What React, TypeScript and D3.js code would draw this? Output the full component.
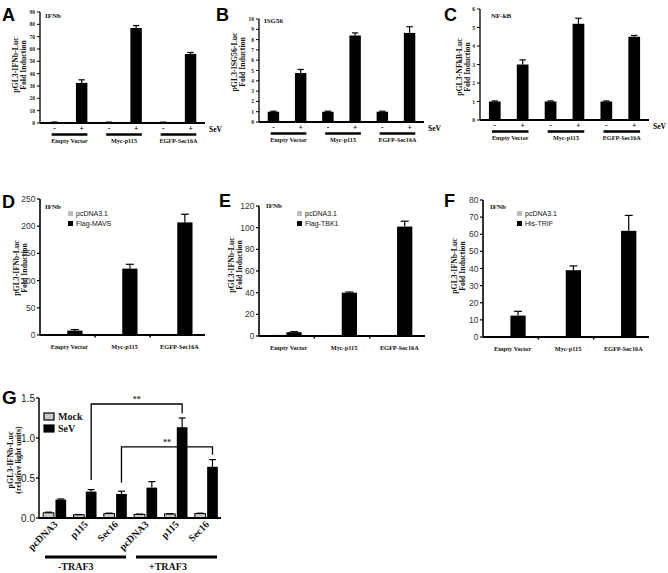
import React from "react";
import * as d3 from "d3";

// ---------- DATA ----------
const sevGroups = ["Empty Vector", "Myc-p115", "EGFP-Sec16A"];
const sevSigns = ["-", "+"];
const panelAValues = [0.6, 32.5, 0.5, 77, 0.5, 56];
const panelAErrors = [0.2, 2.5, 0.2, 2, 0.2, 1.2];
const panelBValues = [1, 4.75, 1, 8.4, 1, 8.65];
const panelBErrors = [0.05, 0.35, 0.05, 0.25, 0.05, 0.6];
const panelCValues = [1, 3.0, 1, 5.2, 1, 4.5];
const panelCErrors = [0.03, 0.25, 0.03, 0.3, 0.03, 0.07];

const vectorGroups = ["Empty Vector", "Myc-p115", "EGFP-Sec16A"];
const panelDSeries = ["pcDNA3.1", "Flag-MAVS"];
const panelDControl = [0.8, 0.8, 0.8];
const panelDTreated = [8, 122, 207];
const panelDErrors = [2, 8, 15];
const panelESeries = ["pcDNA3.1", "Flag-TBK1"];
const panelEControl = [1.2, 1, 1];
const panelETreated = [3.5, 40, 101];
const panelEErrors = [0.5, 0.6, 5];
const panelFSeries = ["pcDNA3.1", "His-TRIF"];
const panelFControl = [0.3, 0.3, 0.3];
const panelFTreated = [12.5, 39, 62];
const panelFErrors = [2.5, 2.5, 9];

const gCategories = ["pcDNA3", "p115", "Sec16", "pcDNA3", "p115", "Sec16"];
const gTrafGroups = ["-TRAF3", "+TRAF3"];
const gSeries = ["Mock", "SeV"];
const gMock = [0.065, 0.04, 0.055, 0.045, 0.05, 0.055];
const gMockErr = [0.008, 0.004, 0.006, 0.004, 0.004, 0.005];
const gSev = [0.23, 0.33, 0.3, 0.38, 1.135, 0.64];
const gSevErr = [0.008, 0.025, 0.035, 0.075, 0.115, 0.09];
const gYTicks = [0, 0.5, 1.0, 1.5];
// significance brackets: [from index, to index, top, left foot, right foot]
const gBrackets = [
  [1, 4, 1.425, 0.475, 1.31],
  [2, 5, 0.89, 0.44, 0.79],
];

// ---------- STYLE ----------
const SERIF = "'Liberation Serif', 'Times New Roman', serif";
const SANS = "'Liberation Sans', Arial, sans-serif";
const GRAY = "#bdbdbd";

function PanelLetter({ x, y, text, size = 18 }: any) {
  return (
    <text x={x} y={y} fontFamily={SANS} fontWeight="bold" fontSize={size} fill="#000">
      {text}
    </text>
  );
}

function YLabel({ x1, x2, cy, l1, l2, size = 7.8 }: any) {
  return (
    <g fontFamily={SERIF} fontWeight="bold" fontSize={size} textAnchor="middle" fill="#111">
      <text transform={`translate(${x1},${cy}) rotate(-90)`}>{l1}</text>
      <text transform={`translate(${x2},${cy}) rotate(-90)`}>{l2}</text>
    </g>
  );
}

function ErrBar({ cx, yv, ye, cap = 7 }: any) {
  return (
    <g stroke="#000" strokeWidth={1.2}>
      <line x1={cx} x2={cx} y1={yv} y2={ye} />
      <line x1={cx - cap / 2} x2={cx + cap / 2} y1={ye} y2={ye} />
    </g>
  );
}

function SevPanel({ cfg, values, errors }: any) {
  const cats = d3.range(values.length).map(String);
  const x = d3.scaleBand().domain(cats).range([cfg.x0, cfg.x1]).paddingInner(0.58).paddingOuter(0.32);
  const y = d3.scaleLinear().domain([0, cfg.max]).range([cfg.y0, cfg.y1]);
  const ticks = d3.range(0, cfg.max + 1e-6, cfg.step);
  const bw = x.bandwidth();
  return (
    <g>
      <PanelLetter x={cfg.lx} y={cfg.ly} text={cfg.letter} />
      <YLabel x1={cfg.yl1} x2={cfg.yl2} cy={cfg.ylc} l1={cfg.ylabel} l2="Fold Induction" />
      <text x={cfg.tx} y={cfg.ty} fontFamily={SERIF} fontWeight="bold" fontSize={7} fill="#111">
        {cfg.title}
      </text>
      {/* y axis */}
      <line x1={cfg.x0} x2={cfg.x0} y1={y(0)} y2={y(cfg.max)} stroke="#000" strokeWidth={1.3} />
      {ticks.map((t: number) => (
        <g key={t}>
          <line x1={cfg.x0 - 3} x2={cfg.x0} y1={y(t)} y2={y(t)} stroke="#000" strokeWidth={1} />
          <text x={cfg.x0 - 5} y={y(t) + 2} textAnchor="end" fontFamily={SERIF} fontWeight="bold" fontSize={5.5} fill="#222">
            {t}
          </text>
        </g>
      ))}
      {/* bars */}
      {values.map((v: number, i: number) => (
        <rect key={i} x={x(String(i))} y={y(v)} width={bw} height={y(0) - y(v)} fill="#000" />
      ))}
      {values.map((v: number, i: number) => (
        <ErrBar key={"e" + i} cx={(x(String(i)) as number) + bw / 2} yv={y(v)} ye={y(v + errors[i])} cap={bw * 0.55} />
      ))}
      {/* x axis */}
      <line x1={cfg.x0} x2={cfg.x1} y1={y(0)} y2={y(0)} stroke="#000" strokeWidth={2} />
      {values.map((v: number, i: number) => (
        <text key={"s" + i} x={(x(String(i)) as number) + bw / 2} y={y(0) + 8} textAnchor="middle" fontFamily={SERIF} fontWeight="bold" fontSize={7.5}>
          {sevSigns[i % 2]}
        </text>
      ))}
      <text x={cfg.x1 + 4} y={y(0) + 9} fontFamily={SERIF} fontWeight="bold" fontSize={7.5}>
        SeV
      </text>
      {sevGroups.map((g, gi) => {
        const xa = (x(String(gi * 2)) as number) + 3;
        const xb = (x(String(gi * 2 + 1)) as number) + bw;
        return (
          <g key={g}>
            <line x1={xa} x2={xb} y1={y(0) + 11.5} y2={y(0) + 11.5} stroke="#000" strokeWidth={2.5} />
            <text x={(xa + xb) / 2} y={y(0) + 20} textAnchor="middle" fontFamily={SERIF} fontWeight="bold" fontSize={6.2} fill="#111">
              {g}
            </text>
          </g>
        );
      })}
    </g>
  );
}

function VecPanel({ cfg, control, treated, errors, series }: any) {
  const x = d3.scaleBand().domain(vectorGroups).range([cfg.x0, cfg.x1]).padding(0);
  const inner = d3.scaleBand().domain(series).range([-15.5, 15]).padding(0);
  const y = d3.scaleLinear().domain([0, cfg.max]).range([cfg.y0, cfg.y1]);
  const ticks = d3.range(0, cfg.max + 1e-6, cfg.step);
  const bw = inner.bandwidth();
  const center = (g: string) => (x(g) as number) + x.bandwidth() / 2;
  return (
    <g>
      <PanelLetter x={cfg.lx} y={cfg.ly} text={cfg.letter} />
      <YLabel x1={cfg.yl1} x2={cfg.yl2} cy={cfg.ylc} l1="pGL3-IFNb-Luc" l2="Fold Induction" />
      <text x={cfg.tx} y={cfg.ty} fontFamily={SERIF} fontWeight="bold" fontSize={7} fill="#111">
        IFNb
      </text>
      {/* legend */}
      {series.map((s: string, i: number) => (
        <g key={s}>
          <rect x={cfg.legx} y={cfg.legy + i * 10} width={5} height={5} fill={i === 0 ? GRAY : "#000"} />
          <text x={cfg.legx + 8} y={cfg.legy + i * 10 + 5} fontFamily={SANS} fontSize={7} fill="#111">
            {s}
          </text>
        </g>
      ))}
      {/* y axis */}
      <line x1={cfg.x0} x2={cfg.x0} y1={y(0)} y2={y(cfg.max)} stroke="#000" strokeWidth={1.6} />
      {ticks.map((t: number) => (
        <g key={t}>
          <line x1={cfg.x0 - 3} x2={cfg.x0} y1={y(t)} y2={y(t)} stroke="#000" strokeWidth={1.2} />
          <text x={cfg.x0 - 4.5} y={y(t) + 3} textAnchor="end" fontFamily={SANS} fontSize={8.5} fill="#333">
            {t}
          </text>
        </g>
      ))}
      {vectorGroups.map((g, gi) => {
        const c = center(g);
        const vals = [control[gi], treated[gi]];
        return (
          <g key={g}>
            {vals.map((v, si) => (
              <rect key={si} x={c + (inner(series[si]) as number)} y={y(v)} width={bw} height={y(0) - y(v)} fill={si === 0 ? GRAY : "#000"} />
            ))}
            <ErrBar cx={c + (inner(series[1]) as number) + bw / 2} yv={y(treated[gi])} ye={y(treated[gi] + errors[gi])} cap={8} />
            <text x={c + 2} y={y(0) + 14} textAnchor="middle" fontFamily={SERIF} fontWeight="bold" fontSize={6.3} fill="#111">
              {g}
            </text>
          </g>
        );
      })}
      <line x1={cfg.x0} x2={cfg.x1} y1={y(0)} y2={y(0)} stroke="#000" strokeWidth={2.2} />
      {vectorGroups.slice(1).map((g) => (
        <line key={g} x1={x(g)} x2={x(g)} y1={y(0)} y2={y(0) + 2.5} stroke="#000" strokeWidth={1.5} />
      ))}
    </g>
  );
}

function PanelG() {
  const x0 = 39, x1 = 221, yb = 518, yt = 398;
  const cats = d3.range(gCategories.length).map(String);
  const x = d3.scaleBand().domain(cats).range([x0, x1]).padding(0);
  const inner = d3.scaleBand().domain(gSeries).range([-11, 12]).paddingInner(0.13);
  const y = d3.scaleLinear().domain([0, 1.5]).range([yb, yt]);
  const bw = inner.bandwidth();
  const c = (i: number) => (x(String(i)) as number) + x.bandwidth() / 2;
  const sevC = (i: number) => c(i) + (inner("SeV") as number) + bw / 2;
  return (
    <g>
      <PanelLetter x={2} y={404} text="G" size={19} />
      <YLabel x1={12.5} x2={20.5} cy={460} l1="pGL3-IFNb-Luc" l2="(relative light units)" size={8} />
      {/* legend */}
      {gSeries.map((s, i) => (
        <g key={s}>
          <rect x={44} y={413 + i * 12} width={10} height={7} fill={i === 0 ? "#c8c8c8" : "#000"} stroke="#000" strokeWidth={1.2} />
          <text x={58} y={420 + i * 12} fontFamily={SERIF} fontWeight="bold" fontSize={10} fill="#111">
            {s}
          </text>
        </g>
      ))}
      {/* y axis */}
      <line x1={x0} x2={x0} y1={yb} y2={yt} stroke="#000" strokeWidth={1.5} />
      {gYTicks.map((t) => (
        <g key={t}>
          <line x1={x0 - 3} x2={x0} y1={y(t)} y2={y(t)} stroke="#000" strokeWidth={1.3} />
          <text x={x0 - 4} y={y(t) + 3.5} textAnchor="end" fontFamily={SANS} fontSize={10} fill="#222">
            {d3.format(".1f")(t)}
          </text>
        </g>
      ))}
      {/* bars */}
      {gCategories.map((cat, i) => {
        const vals = [gMock[i], gSev[i]];
        const errs = [gMockErr[i], gSevErr[i]];
        return (
          <g key={i}>
            {vals.map((v, si) => (
              <rect key={si} x={c(i) + (inner(gSeries[si]) as number)} y={y(v)} width={bw} height={yb - y(v)}
                fill={si === 0 ? "#c8c8c8" : "#000"} stroke="#000" strokeWidth={si === 0 ? 1 : 0} />
            ))}
            {vals.map((v, si) => (
              <ErrBar key={"e" + si} cx={c(i) + (inner(gSeries[si]) as number) + bw / 2} yv={y(v)} ye={y(v + errs[si])} cap={7} />
            ))}
            <text transform={`translate(${c(i) + 4},${yb + 7}) rotate(-45)`} textAnchor="end" fontFamily={SERIF} fontWeight="bold" fontSize={10} fill="#111">
              {cat}
            </text>
          </g>
        );
      })}
      <line x1={x0} x2={x1} y1={yb} y2={yb} stroke="#000" strokeWidth={2} />
      {/* TRAF3 group lines */}
      {gTrafGroups.map((g, gi) => {
        const xa = (x(String(gi * 3)) as number) + 6;
        const xb = (x(String(gi * 3 + 2)) as number) + x.bandwidth() - 4;
        return (
          <g key={g}>
            <line x1={xa} x2={xb} y1={557} y2={557} stroke="#000" strokeWidth={3} />
            <text x={xa + 13} y={570} fontFamily={SERIF} fontWeight="bold" fontSize={10} fill="#111">
              {g}
            </text>
          </g>
        );
      })}
      {/* brackets */}
      {gBrackets.map((b, bi) => {
        const xa = sevC(b[0]), xb = sevC(b[1]);
        return (
          <g key={bi}>
            <path d={`M${xa},${y(b[3])} V${y(b[2])} H${xb} V${y(b[4])}`} fill="none" stroke="#000" strokeWidth={1.3} />
            <text x={(xa + xb) / 2} y={y(b[2]) - 2} textAnchor="middle" fontFamily={SERIF} fontWeight="bold" fontSize={8} fill="#333">
              **
            </text>
          </g>
        );
      })}
    </g>
  );
}

const cfgA = { x0: 40, x1: 205, y0: 123, y1: 12, max: 90, step: 10, letter: "A", lx: 2, ly: 21, title: "IFNb", tx: 45, ty: 18, ylabel: "pGL3-IFNb-Luc", yl1: 18, yl2: 26, ylc: 65 };
const cfgB = { x0: 259, x1: 424, y0: 122, y1: 19, max: 10, step: 1, letter: "B", lx: 216, ly: 21, title: "ISG56", tx: 264, ty: 23, ylabel: "pGL3-ISG56-Luc", yl1: 237, yl2: 245, ylc: 62 };
const cfgC = { x0: 480, x1: 649, y0: 120, y1: 9, max: 6, step: 1, letter: "C", lx: 444, ly: 21, title: "NF-kB", tx: 491, ty: 18, ylabel: "pGL3-NFkB-Luc", yl1: 462, yl2: 470, ylc: 67 };
const cfgD = { x0: 40, x1: 205, y0: 335, y1: 199, max: 250, step: 50, letter: "D", lx: 2, ly: 208, tx: 45, ty: 209, legx: 68, legy: 211, yl1: 19, yl2: 27, ylc: 268 };
const cfgE = { x0: 259, x1: 425, y0: 336, y1: 206, max: 120, step: 20, letter: "E", lx: 219, ly: 207, tx: 266, ty: 208, legx: 297, legy: 211, yl1: 234, yl2: 242, ylc: 265 };
const cfgF = { x0: 483, x1: 649, y0: 337, y1: 200, max: 80, step: 10, letter: "F", lx: 444, ly: 207, tx: 490, ty: 209, legx: 517, legy: 211, yl1: 457, yl2: 465, ylc: 266 };

export default function App() {
  return (
    <svg width={668} height={573} style={{ position: "fixed", left: 0, top: 0, background: "#fff" }}>
      <rect width={668} height={573} fill="#fff" />
      <SevPanel cfg={cfgA} values={panelAValues} errors={panelAErrors} />
      <SevPanel cfg={cfgB} values={panelBValues} errors={panelBErrors} />
      <SevPanel cfg={cfgC} values={panelCValues} errors={panelCErrors} />
      <VecPanel cfg={cfgD} control={panelDControl} treated={panelDTreated} errors={panelDErrors} series={panelDSeries} />
      <VecPanel cfg={cfgE} control={panelEControl} treated={panelETreated} errors={panelEErrors} series={panelESeries} />
      <VecPanel cfg={cfgF} control={panelFControl} treated={panelFTreated} errors={panelFErrors} series={panelFSeries} />
      <PanelG />
    </svg>
  );
}
